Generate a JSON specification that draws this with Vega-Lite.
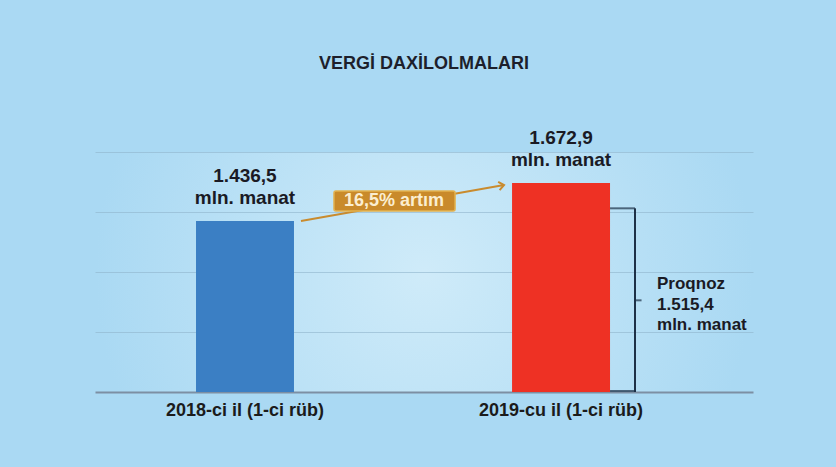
{
  "$schema": "https://vega.github.io/schema/vega-lite/v6.json",
  "width": 658,
  "height": 240,
  "autosize": {"type": "none"},
  "padding": {"left": 95, "top": 152, "right": 83, "bottom": 75},
  "background": "#aad9f3",
  "title": {
    "text": "VERGİ DAXİLOLMALARI",
    "fontSize": 18,
    "font": "Liberation Sans",
    "fontWeight": "bold",
    "color": "#1d1f2b",
    "anchor": "middle",
    "baseline": "alphabetic",
    "offset": 42
  },
  "config": {
    "view": {
      "stroke": null,
      "fill": {
        "gradient": "radial",
        "x1": 0.5, "y1": 0.5, "x2": 0.5, "y2": 0.5, "r1": 0, "r2": 0.5,
        "stops": [{"offset": 0, "color": "#cfebf9"}, {"offset": 1, "color": "#aad9f3"}]
      }
    },
    "font": "Liberation Sans"
  },
  "datasets": {
    "bars": [
      {"period": "2018-ci il (1-ci rüb)", "value": 1436.5, "label": "1.436,5\nmln. manat"},
      {"period": "2019-cu il (1-ci rüb)", "value": 1672.9, "label": "1.672,9\nmln. manat"}
    ],
    "growth": [
      {"from": "2018-ci il (1-ci rüb)", "to": "2019-cu il (1-ci rüb)", "v0": 1436.5, "v1": 1672.9, "label": "16,5% artım"}
    ],
    "forecast": [
      {"period": "2019-cu il (1-ci rüb)", "prognoz": 1515.4, "label": "Proqnoz\n1.515,4\nmln. manat"}
    ]
  },
  "layer": [
    {
      "data": {"name": "bars"},
      "mark": {"type": "bar"},
      "encoding": {
        "x": {
          "field": "period",
          "type": "nominal",
          "sort": null,
          "scale": {"paddingInner": 0.69, "paddingOuter": 0.386, "align": 0.414},
          "axis": {
            "title": null,
            "labelAngle": 0,
            "ticks": false,
            "domainColor": "#7d8fa3",
            "domainWidth": 2,
            "labelFontSize": 18,
            "labelFont": "Liberation Sans",
            "labelFontWeight": "bold",
            "labelColor": "#1b1b1b",
            "labelPadding": 9
          }
        },
        "y": {
          "field": "value",
          "type": "quantitative",
          "scale": {"domain": [372.7, 1865.8], "zero": false, "nice": false},
          "axis": {
            "title": null,
            "values": [746, 1119.3, 1492.6, 1865.8],
            "labels": false,
            "ticks": false,
            "domain": false,
            "grid": true,
            "gridColor": "#8fb4cc",
            "gridOpacity": 0.6,
            "gridWidth": 1
          }
        },
        "y2": {"datum": 372.7},
        "color": {
          "field": "period",
          "type": "nominal",
          "scale": {"range": ["#3b7fc4", "#ee3124"]},
          "legend": null
        }
      }
    },
    {
      "data": {"name": "forecast"},
      "mark": {"type": "rule", "color": "#1d3047", "strokeWidth": 2, "xOffset": 25},
      "encoding": {
        "x": {"field": "period", "type": "nominal", "bandPosition": 1, "title": null},
        "y": {"field": "prognoz", "type": "quantitative", "title": null},
        "y2": {"datum": 372.7}
      }
    },
    {
      "data": {"name": "forecast"},
      "mark": {"type": "tick", "color": "#1d3047", "thickness": 2, "size": 25, "xOffset": 61.5},
      "encoding": {
        "x": {"field": "period", "type": "nominal", "title": null},
        "y": {"field": "prognoz", "type": "quantitative", "title": null}
      }
    },
    {
      "data": {"name": "forecast"},
      "mark": {"type": "tick", "color": "#1d3047", "thickness": 2, "size": 25, "xOffset": 61.5, "yOffset": -1},
      "encoding": {
        "x": {"field": "period", "type": "nominal", "title": null},
        "y": {"datum": 372.7, "type": "quantitative", "title": null}
      }
    },
    {
      "data": {"name": "forecast"},
      "mark": {"type": "tick", "color": "#1d3047", "thickness": 2, "size": 7, "xOffset": 77, "yOffset": 92},
      "encoding": {
        "x": {"field": "period", "type": "nominal", "title": null},
        "y": {"field": "prognoz", "type": "quantitative", "title": null}
      }
    },
    {
      "data": {"name": "growth"},
      "mark": {"type": "rule", "color": "#c98b2e", "strokeWidth": 2, "xOffset": 7, "x2Offset": -8, "y2Offset": 2},
      "encoding": {
        "x": {"field": "from", "type": "nominal", "bandPosition": 1, "title": null},
        "x2": {"field": "to", "bandPosition": 0},
        "y": {"field": "v0", "type": "quantitative", "title": null},
        "y2": {"field": "v1"}
      }
    },
    {
      "data": {"name": "growth"},
      "mark": {
        "type": "point",
        "shape": "M-1,-0.8L0,0L-1,0.8",
        "filled": false,
        "stroke": "#c98b2e",
        "strokeWidth": 2,
        "opacity": 1,
        "size": 110,
        "angle": -10,
        "xOffset": -8,
        "yOffset": 2
      },
      "encoding": {
        "x": {"field": "to", "type": "nominal", "bandPosition": 0, "title": null},
        "y": {"field": "v1", "type": "quantitative", "title": null}
      }
    },
    {
      "data": {"name": "growth"},
      "mark": {
        "type": "rect",
        "fill": "#c98a2b",
        "stroke": "#e3b24f",
        "strokeWidth": 1.5,
        "cornerRadius": 2,
        "xOffset": 40,
        "x2Offset": -57,
        "yOffset": -10,
        "y2Offset": 8
      },
      "encoding": {
        "x": {"field": "from", "type": "nominal", "bandPosition": 1, "title": null},
        "x2": {"field": "to", "bandPosition": 0},
        "y": {"field": "v0", "type": "quantitative", "title": null},
        "y2": {"field": "v1"}
      }
    },
    {
      "data": {"name": "growth"},
      "mark": {
        "type": "text",
        "color": "#fbeed0",
        "fontSize": 18,
        "fontWeight": "bold",
        "font": "Liberation Sans",
        "baseline": "middle",
        "align": "center",
        "dx": 100,
        "dy": -20
      },
      "encoding": {
        "x": {"field": "from", "type": "nominal", "bandPosition": 1, "title": null},
        "y": {"field": "v0", "type": "quantitative", "title": null},
        "text": {"field": "label"}
      }
    },
    {
      "data": {"name": "bars"},
      "mark": {
        "type": "text",
        "color": "#1a1a24",
        "fontSize": 19,
        "fontWeight": "bold",
        "font": "Liberation Sans",
        "baseline": "alphabetic",
        "align": "center",
        "lineBreak": "\n",
        "lineHeight": 22,
        "dy": -39
      },
      "encoding": {
        "x": {"field": "period", "type": "nominal", "title": null},
        "y": {"field": "value", "type": "quantitative", "title": null},
        "text": {"field": "label"}
      }
    },
    {
      "data": {"name": "forecast"},
      "mark": {
        "type": "text",
        "color": "#1a1a24",
        "fontSize": 17,
        "fontWeight": "bold",
        "font": "Liberation Sans",
        "baseline": "alphabetic",
        "align": "left",
        "lineBreak": "\n",
        "lineHeight": 20.5,
        "dx": 47,
        "dy": 81
      },
      "encoding": {
        "x": {"field": "period", "type": "nominal", "bandPosition": 1, "title": null},
        "y": {"field": "prognoz", "type": "quantitative", "title": null},
        "text": {"field": "label"}
      }
    }
  ]
}
